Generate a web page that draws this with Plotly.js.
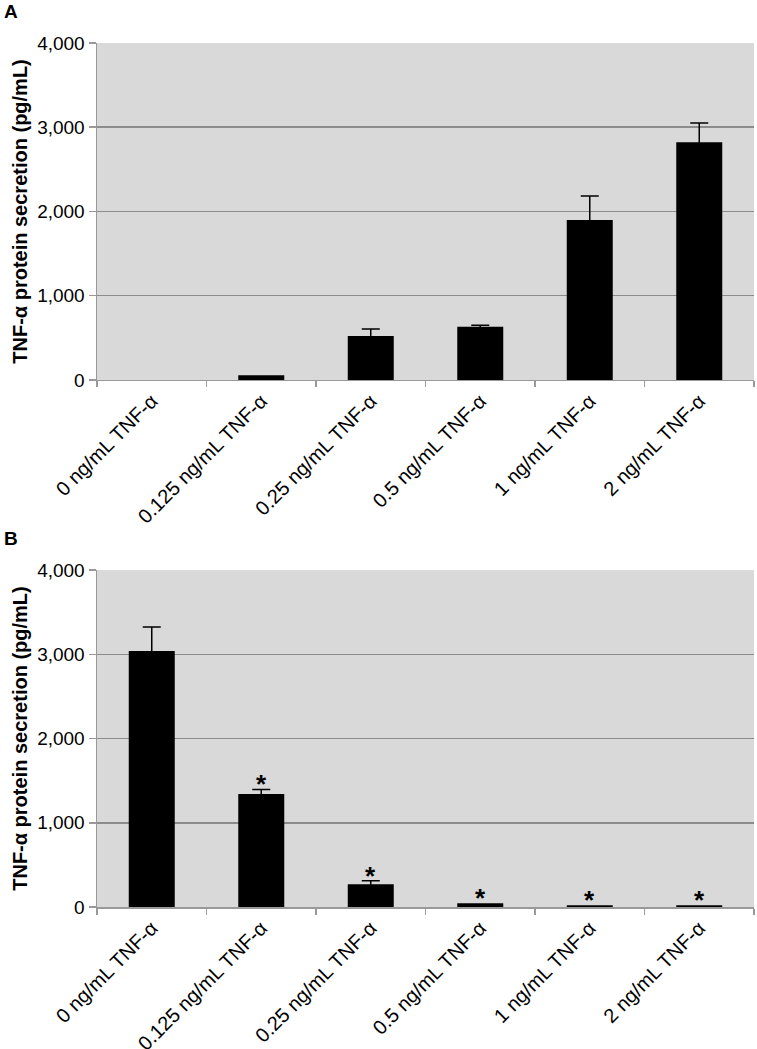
<!DOCTYPE html>
<html>
<head>
<meta charset="utf-8">
<script src="https://cdn.plot.ly/plotly-3.0.1.min.js"></script>
<style>html,body{margin:0;padding:0;background:#fff;}#chart{width:757px;height:1049px;}</style>
</head>
<body>
<div id="chart"></div>
<script>
const categories = ['0 ng/mL TNF-α', '0.125 ng/mL TNF-α', '0.25 ng/mL TNF-α', '0.5 ng/mL TNF-α', '1 ng/mL TNF-α', '2 ng/mL TNF-α'];
const valuesA = [0, 55, 522, 632, 1898, 2823];
const errorsA = [NaN, NaN, 83, 18, 285, 226];
const valuesB = [3040, 1340, 269, 44, 20, 20];
const errorsB = [285, 56, 43, NaN, NaN, NaN];
const sigB = ['', '*', '*', '*', '*', '*'];
const yTicks = [0, 1000, 2000, 3000, 4000];
const yTickText = ['0', '1,000', '2,000', '3,000', '4,000'];
const yTitle = 'TNF-α protein secretion (pg/mL)';

const FONT = 'Liberation Sans, Arial, sans-serif';

const barStyle = {color: '#000000', line: {width: 0}};
const errStyle = {type: 'data', symmetric: true, color: '#000', thickness: 1.5, width: 9};

const traces = [
  {type: 'bar', x: categories, y: valuesA, xaxis: 'x', yaxis: 'y', marker: barStyle, width: 0.42,
   error_y: Object.assign({array: errorsA}, errStyle), hoverinfo: 'none'},
  {type: 'bar', x: categories, y: valuesB, xaxis: 'x2', yaxis: 'y2', marker: barStyle, width: 0.42,
   error_y: Object.assign({array: errorsB}, errStyle), hoverinfo: 'none'}
];

function xax(anchor) {
  return {anchor: anchor, type: 'category', tickangle: -45, ticks: 'outside', tickson: 'boundaries',
    ticklen: 6, tickcolor: '#999', tickwidth: 1.5, showline: true, linecolor: '#999', linewidth: 1.5,
    showgrid: false, tickfont: {family: FONT, size: 20, color: '#000'}, fixedrange: true};
}
function yax(anchor, domain) {
  return {anchor: anchor, domain: domain, range: [0, 4000], tickvals: yTicks, ticktext: yTickText,
    ticks: 'outside', ticklen: 7, tickcolor: '#999', tickwidth: 1.5, showline: true, linecolor: '#999', linewidth: 1.5,
    showgrid: true, gridcolor: '#8c8c8c', gridwidth: 1.5, zeroline: false,
    tickfont: {family: FONT, size: 19, color: '#000'},
    title: {text: yTitle, font: {family: FONT, size: 20, color: '#000', weight: 'bold'}, standoff: 4},
    fixedrange: true};
}

const sigAnnotations = sigB.map((s, i) => ({
  text: s ? '<b>' + s + '</b>' : '', xref: 'x2', yref: 'y2', x: categories[i],
  y: valuesB[i] + (isNaN(errorsB[i]) ? 0 : errorsB[i]),
  xanchor: 'center', yanchor: 'middle', yshift: 5, showarrow: false,
  font: {family: FONT, size: 26, color: '#000'}
})).filter(a => a.text !== '');

const layout = {
  width: 757, height: 1049,
  margin: {l: 97, r: 3, t: 43, b: 142},
  paper_bgcolor: '#ffffff', plot_bgcolor: '#d9d9d9',
  showlegend: false,
  xaxis: xax('y'),
  yaxis: yax('x', [0.61, 1]),
  xaxis2: xax('y2'),
  yaxis2: yax('x2', [0, 0.39]),
  annotations: [
    {text: '<b>A</b>', xref: 'paper', yref: 'paper', x: -0.145, y: 1.037, xanchor: 'left', yanchor: 'middle', showarrow: false, font: {family: FONT, size: 19, color: '#000'}},
    {text: '<b>B</b>', xref: 'paper', yref: 'paper', x: -0.145, y: 0.427, xanchor: 'left', yanchor: 'middle', showarrow: false, font: {family: FONT, size: 19, color: '#000'}}
  ].concat(sigAnnotations)
};

Plotly.newPlot('chart', traces, layout, {displayModeBar: false, staticPlot: true});
</script>
</body>
</html>
